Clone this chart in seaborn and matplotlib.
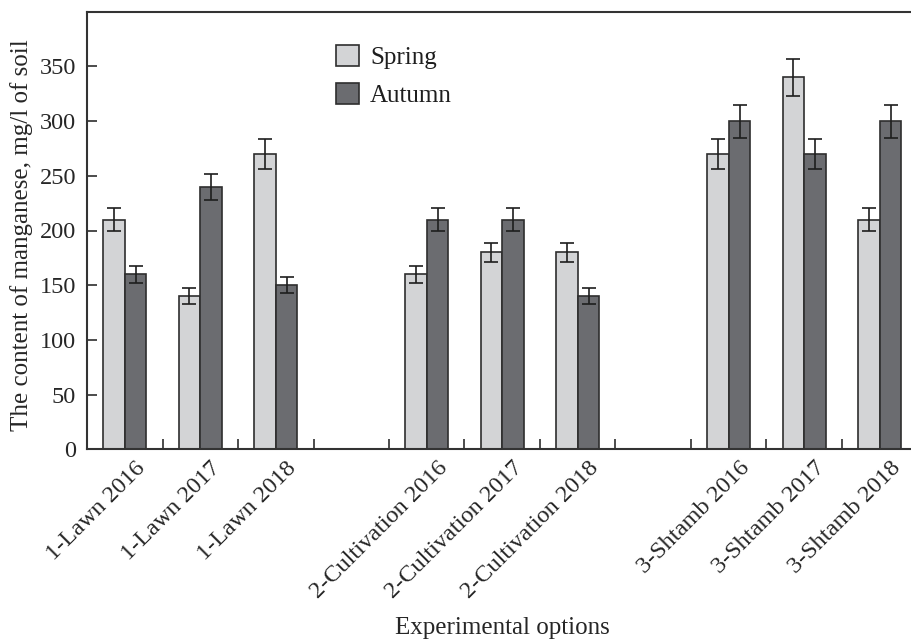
import numpy as np
import pandas as pd
import matplotlib
matplotlib.use("Agg")
import matplotlib.pyplot as plt
import seaborn as sns

categories = ["1-Lawn 2016", "1-Lawn 2017", "1-Lawn 2018", " ",
              "2-Cultivation 2016", "2-Cultivation 2017", "2-Cultivation 2018", "  ",
              "3-Shtamb 2016", "3-Shtamb 2017", "3-Shtamb 2018"]
data_categories = ["1-Lawn 2016", "1-Lawn 2017", "1-Lawn 2018",
                   "2-Cultivation 2016", "2-Cultivation 2017", "2-Cultivation 2018",
                   "3-Shtamb 2016", "3-Shtamb 2017", "3-Shtamb 2018"]
spring = [210, 140, 270, 160, 180, 180, 270, 340, 210]
autumn = [160, 240, 150, 210, 210, 140, 300, 270, 300]
spring_err = [10.5, 7, 13.5, 8, 9, 9, 13.5, 17, 10.5]
autumn_err = [8, 12, 7.5, 10.5, 10.5, 7, 15, 13.5, 15]
seasons = ["Spring", "Autumn"]
yticks = [0, 50, 100, 150, 200, 250, 300, 350]

df = pd.DataFrame({
    "option": data_categories * 2,
    "season": ["Spring"] * len(data_categories) + ["Autumn"] * len(data_categories),
    "value": spring + autumn,
    "err": spring_err + autumn_err,
})

sns.set_theme(style="white")
plt.rcParams["font.family"] = ["Liberation Serif", "DejaVu Serif"]
plt.rcParams["text.color"] = "#1e1e1e"

W, H = 912, 641
fig = plt.figure(figsize=(W / 100, H / 100), dpi=100)
ax = fig.add_axes([87 / W, 1 - 449.3 / H, 830.5 / W, (449.3 - 11.7) / H])

palette = {"Spring": "#d3d4d6", "Autumn": "#6b6c70"}
sns.barplot(data=df, x="option", y="value", hue="season", order=categories,
            hue_order=seasons, palette=palette, width=0.57, gap=0,
            errorbar=None, edgecolor="#2e2e2e", linewidth=1.2, saturation=1,
            ax=ax, legend=False)

# error bars from data, positioned at the bars seaborn drew
for container, season in zip(ax.containers, seasons):
    sub = df[df.season == season].set_index("option")
    for bar in container:
        xc = bar.get_x() + bar.get_width() / 2
        cat = categories[int(round(xc))]
        if cat not in sub.index:
            continue
        ax.errorbar(xc, sub.loc[cat, "value"], yerr=sub.loc[cat, "err"],
                    fmt="none", ecolor="#1e1e1e", elinewidth=1.2, capsize=4.7,
                    capthick=1.2, zorder=5)

ax.set_xlim(-0.5, len(categories) - 0.5)
ax.set_ylim(0, 400)
ax.set_yticks(yticks)
ax.set_yticklabels([str(t) for t in yticks], fontsize=17.5)

# label anchors sit slightly right of each category centre, as in the source
label_shift = 10 / 75.5
ax.set_xticks(np.arange(len(categories)) + label_shift)
ax.set_xticklabels(categories, rotation=45, ha="right", rotation_mode="anchor",
                   fontsize=17.5)
ax.tick_params(axis="x", which="major", length=0, pad=6)
ax.set_xticks(np.arange(0.5, len(categories) - 0.5, 1.0), minor=True)
ax.tick_params(axis="x", which="minor", direction="in", length=7, width=1.2,
               color="#2e2e2e", bottom=True)
ax.tick_params(axis="y", which="major", direction="in", length=7, width=1.2,
               color="#2e2e2e", left=True, pad=8)

for side in ["left", "top", "bottom"]:
    ax.spines[side].set_visible(True)
    ax.spines[side].set_color("#333333")
    ax.spines[side].set_linewidth(1.5)
ax.spines["right"].set_visible(False)

ax.set_ylabel("The content of manganese, mg/l of soil", fontsize=18)
ax.yaxis.set_label_coords(-(87 - 33) / 830.5, 0.49)
ax.set_xlabel("Experimental options", fontsize=18, va="baseline")
ax.xaxis.set_label_coords(0.5, -(634 - 449.3) / 437.6)

handles = [plt.Rectangle((0, 0), 1, 1, facecolor=palette[s], edgecolor="#2e2e2e",
                         linewidth=1.2) for s in seasons]
fig.legend(handles, seasons, loc="upper left",
           bbox_to_anchor=(336 / W, 1 - 45 / H), frameon=False, fontsize=18,
           handlelength=0.92, handleheight=0.92, labelspacing=0.54,
           handletextpad=0.45, borderpad=0, borderaxespad=0)

fig.savefig("out.png", dpi=100)
